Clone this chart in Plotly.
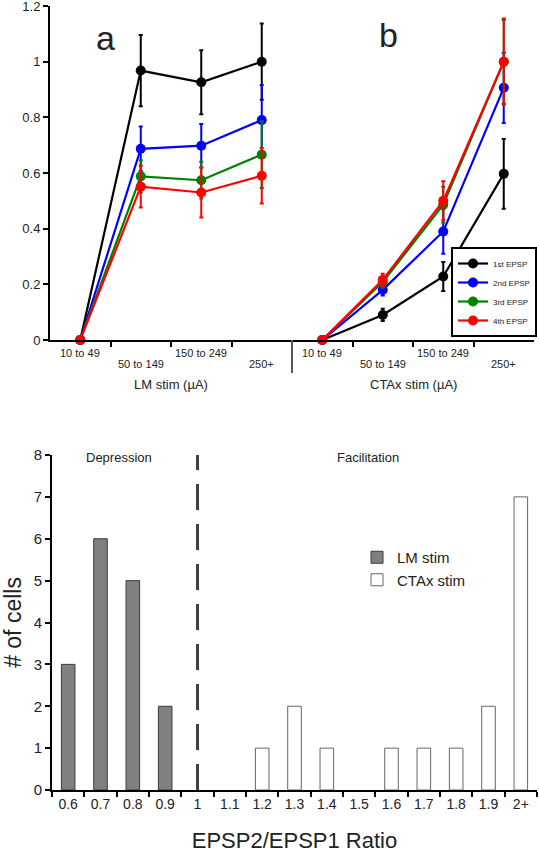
import plotly.graph_objects as go

W, H = 539, 853

# ---------------- top chart data ----------------
stim_levels = ["10 to 49", "50 to 149", "150 to 249", "250+"]
series_names = ["1st EPSP", "2nd EPSP", "3rd EPSP", "4th EPSP"]
series_colors = ["#000000", "#0000ff", "#008000", "#ff0000"]

lm_mean = {
    "1st EPSP": [0, 0.968, 0.926, 1.0],
    "2nd EPSP": [0, 0.687, 0.698, 0.79],
    "3rd EPSP": [0, 0.588, 0.574, 0.666],
    "4th EPSP": [0, 0.551, 0.530, 0.590],
}
lm_err = {
    "1st EPSP": [0, 0.128, 0.115, 0.137],
    "2nd EPSP": [0, 0.080, 0.078, 0.126],
    "3rd EPSP": [0, 0.058, 0.066, 0.120],
    "4th EPSP": [0, 0.075, 0.090, 0.100],
}
ctax_mean = {
    "1st EPSP": [0, 0.090, 0.228, 0.597],
    "2nd EPSP": [0, 0.180, 0.390, 0.906],
    "3rd EPSP": [0, 0.208, 0.486, 1.0],
    "4th EPSP": [0, 0.216, 0.500, 1.0],
}
ctax_err = {
    "1st EPSP": [0, 0.022, 0.052, 0.125],
    "2nd EPSP": [0, 0.020, 0.080, 0.126],
    "3rd EPSP": [0, 0.020, 0.065, 0.150],
    "4th EPSP": [0, 0.022, 0.070, 0.155],
}
top_yticks = [0, 0.2, 0.4, 0.6, 0.8, 1, 1.2]
top_yticktext = ["0", "0.2", "0.4", "0.6", "0.8", "1", "1.2"]

# ---------------- bottom chart data ----------------
ratio_cats = ["0.6", "0.7", "0.8", "0.9", "1", "1.1", "1.2", "1.3", "1.4",
              "1.5", "1.6", "1.7", "1.8", "1.9", "2+"]
lm_cats = ["0.6", "0.7", "0.8", "0.9"]
lm_counts = [3, 6, 5, 2]
ctax_cats = ["1.2", "1.3", "1.4", "1.6", "1.7", "1.8", "1.9", "2+"]
ctax_counts = [1, 2, 1, 1, 1, 1, 2, 7]
bottom_yticks = [0, 1, 2, 3, 4, 5, 6, 7, 8]

FONT = "Liberation Sans, Arial, sans-serif"

def px_x(p):
    return p / W

def px_y(p):
    return 1 - p / H

fig = go.Figure()

# positions: panel a at 0..3, panel b at 4..7
pos_a = list(range(len(stim_levels)))
pos_b = [p + len(stim_levels) for p in pos_a]

for name, col in zip(series_names, series_colors):
    xs = pos_a + [None] + pos_b
    ys = lm_mean[name] + [None] + ctax_mean[name]
    es = lm_err[name] + [0] + ctax_err[name]
    fig.add_trace(go.Scatter(
        x=xs, y=ys, name=name, mode="lines+markers",
        line=dict(color=col, width=2.2),
        marker=dict(color=col, size=10),
        error_y=dict(type="data", array=es, color=col, thickness=2, width=2),
        cliponaxis=False,
        xaxis="x", yaxis="y", legend="legend",
    ))

# bars
fig.add_trace(go.Bar(
    x=lm_cats, y=lm_counts, name="LM stim", width=0.42,
    marker=dict(color="#808080", line=dict(color="#3a3a3a", width=1)),
    xaxis="x2", yaxis="y2", legend="legend2",
))
fig.add_trace(go.Bar(
    x=ctax_cats, y=ctax_counts, name="CTAx stim", width=0.42,
    marker=dict(color="#ffffff", line=dict(color="#666666", width=1)),
    xaxis="x2", yaxis="y2", legend="legend2",
))

def ann(x, y, text, size, xref="paper"):
    return dict(x=x, y=y, xref=xref, yref="paper", text=text, showarrow=False,
                xanchor="center", yanchor="middle",
                font=dict(family=FONT, size=size, color="#222"))

annotations = []
# staggered stim tick labels
for i, lab in enumerate(stim_levels):
    row_py = 353 if i % 2 == 0 else 364
    for base in (pos_a, pos_b):
        annotations.append(ann(base[i], px_y(row_py), lab, 11, xref="x"))
annotations.append(ann((pos_a[0] + pos_a[-1]) / 2, px_y(385), "LM stim (µA)", 13, xref="x"))
annotations.append(ann((pos_b[0] + pos_b[-1]) / 2, px_y(385), "CTAx stim (µA)", 13, xref="x"))
annotations.append(ann(px_x(105), px_y(38), "a", 34))
annotations.append(ann(px_x(388), px_y(35), "b", 34))
annotations.append(ann(px_x(119), px_y(457), "Depression", 13))
annotations.append(ann(px_x(368), px_y(458), "Facilitation", 13))

shapes = [
    # divider between panels
    dict(type="line", xref="x", yref="paper",
         x0=(pos_a[-1] + pos_b[0]) / 2, x1=(pos_a[-1] + pos_b[0]) / 2,
         y0=px_y(340), y1=px_y(373), line=dict(color="#555", width=2)),
    # dashed line at ratio 1
    dict(type="line", xref="x2", yref="y2",
         x0=ratio_cats.index("1"), x1=ratio_cats.index("1"),
         y0=0, y1=8.1, line=dict(color="#404040", width=3, dash="26px,14px")),
]

fig.update_layout(
    width=W, height=H,
    margin=dict(l=0, r=0, t=0, b=0, autoexpand=False),
    paper_bgcolor="white", plot_bgcolor="white",
    font=dict(family=FONT, color="#222"),
    barmode="overlay",
    xaxis=dict(domain=[px_x(50), px_x(534)], range=[-0.5, 7.5],
               tickvals=[0.5, 1.5, 2.5, 4.5, 5.5, 6.5], ticktext=[""] * 6,
               ticks="outside", ticklen=5, tickwidth=2, tickcolor="black",
               showline=True, linecolor="black", linewidth=2, automargin=False,
               showgrid=False, zeroline=False, anchor="y", fixedrange=True),
    yaxis=dict(domain=[px_y(340), px_y(6)], range=[0, 1.2],
               tickvals=top_yticks, ticktext=top_yticktext,
               ticks="outside", ticklen=5, tickwidth=2, tickcolor="black",
               tickfont=dict(size=13, color="#222"), automargin=False,
               ticklabeloverflow="allow",
               showline=True, linecolor="black", linewidth=2,
               showgrid=False, zeroline=False, anchor="x"),
    xaxis2=dict(domain=[px_x(52), px_x(537)], type="category",
                categoryorder="array", categoryarray=ratio_cats,
                tickson="boundaries", ticks="outside", ticklen=5, tickwidth=2,
                tickcolor="black", tickfont=dict(size=14, color="#222"),
                showline=True, linecolor="black", linewidth=2, showgrid=False,
                automargin=False, ticklabeloverflow="allow",
                title=dict(text="EPSP2/EPSP1 Ratio", font=dict(size=22, color="#222"), standoff=22),
                anchor="y2"),
    yaxis2=dict(domain=[px_y(790), px_y(455)], range=[0, 8],
                tickvals=bottom_yticks,
                ticks="outside", ticklen=5, tickwidth=2, tickcolor="black",
                tickfont=dict(size=15, color="#222"), automargin=False,
                ticklabeloverflow="allow",
                showline=True, linecolor="black", linewidth=2,
                showgrid=False, zeroline=False,
                title=dict(text="# of cells", font=dict(size=23, color="#222"), standoff=12),
                anchor="x2"),
    legend=dict(x=px_x(537), y=px_y(337), xanchor="right", yanchor="bottom",
                bordercolor="black", borderwidth=2, bgcolor="white",
                font=dict(size=8, color="#222"), itemwidth=30,
                tracegroupgap=0),
    legend2=dict(x=px_x(357), y=px_y(541), xanchor="left", yanchor="top",
                 bgcolor="rgba(0,0,0,0)", font=dict(size=15, color="#222"),
                 tracegroupgap=0),
    annotations=annotations,
    shapes=shapes,
)

fig.write_html("out.html", config={"displayModeBar": False},
               post_script="document.body.style.margin='0';document.body.style.overflow='hidden';")
